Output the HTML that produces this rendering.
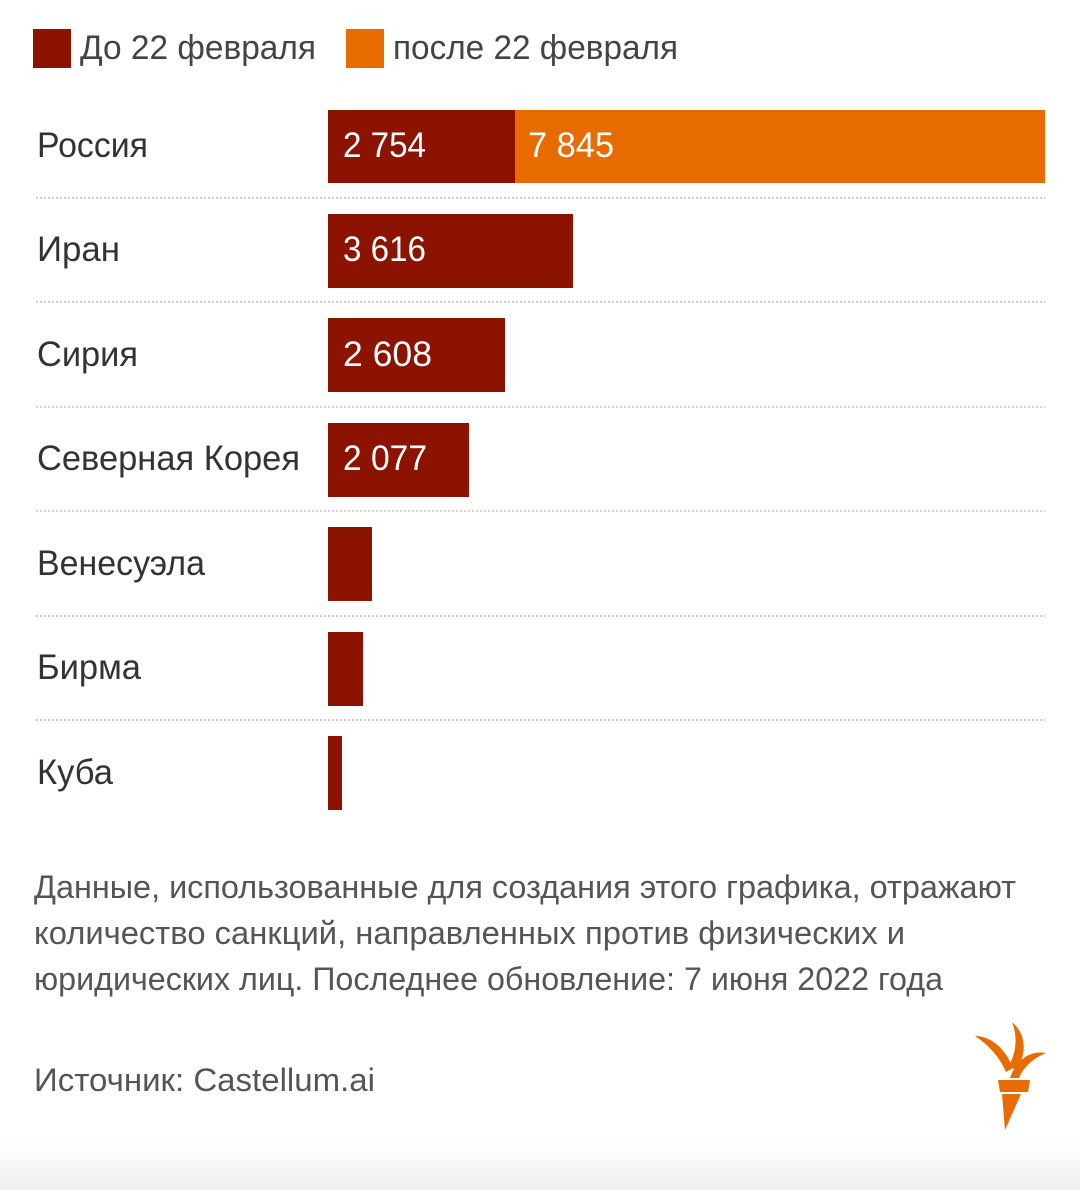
<!DOCTYPE html>
<html><head><meta charset="utf-8"><style>
html,body{margin:0;padding:0;background:#fff}
svg{display:block}
text{font-family:"Liberation Sans",sans-serif}
</style></head><body>
<svg width="1080" height="1190" viewBox="0 0 1080 1190">
<defs><linearGradient id="g" x1="0" y1="0" x2="0" y2="1"><stop offset="0" stop-color="#fff"/><stop offset="1" stop-color="#efefef"/></linearGradient></defs>
<rect x="0" y="1140" width="1080" height="50" fill="url(#g)"/>
<rect x="33" y="29" width="38" height="39" fill="#8b1300"/>
<text x="80" y="59" font-size="34" fill="#444" textLength="236" lengthAdjust="spacingAndGlyphs">До 22 февраля</text>
<rect x="346" y="29" width="38" height="39" fill="#e86b00"/>
<text x="393" y="59" font-size="34" fill="#444" textLength="285" lengthAdjust="spacingAndGlyphs">после 22 февраля</text>
<g stroke="#d0d0d0" stroke-width="2" stroke-dasharray="2 2">
<line x1="36" y1="198" x2="1045" y2="198"/><line x1="36" y1="302" x2="1045" y2="302"/>
<line x1="36" y1="407" x2="1045" y2="407"/><line x1="36" y1="511" x2="1045" y2="511"/>
<line x1="36" y1="616" x2="1045" y2="616"/><line x1="36" y1="720" x2="1045" y2="720"/>
</g>
<g fill="#8b1300">
<rect x="328" y="110" width="187" height="73"/>
<rect x="328" y="214" width="245" height="74"/>
<rect x="328" y="318" width="177" height="74"/>
<rect x="328" y="423" width="141" height="74"/>
<rect x="328" y="527" width="44" height="74"/>
<rect x="328" y="632" width="35" height="74"/>
<rect x="328" y="736" width="14" height="74"/>
</g>
<rect x="515" y="110" width="530" height="73" fill="#e86b00"/>
<g font-size="35" fill="#333">
<text x="37" y="157" textLength="111" lengthAdjust="spacingAndGlyphs">Россия</text>
<text x="37" y="261" textLength="83" lengthAdjust="spacingAndGlyphs">Иран</text>
<text x="37" y="366" textLength="101" lengthAdjust="spacingAndGlyphs">Сирия</text>
<text x="37" y="470" textLength="263" lengthAdjust="spacingAndGlyphs">Северная Корея</text>
<text x="37" y="575" textLength="168" lengthAdjust="spacingAndGlyphs">Венесуэла</text>
<text x="37" y="679" textLength="104" lengthAdjust="spacingAndGlyphs">Бирма</text>
<text x="37" y="784" textLength="76" lengthAdjust="spacingAndGlyphs">Куба</text>
</g>
<g font-size="35" fill="#fff">
<text x="343" y="157" textLength="83" lengthAdjust="spacingAndGlyphs">2 754</text>
<text x="528" y="157" textLength="86" lengthAdjust="spacingAndGlyphs">7 845</text>
<text x="343" y="261" textLength="83" lengthAdjust="spacingAndGlyphs">3 616</text>
<text x="343" y="366" textLength="89" lengthAdjust="spacingAndGlyphs">2 608</text>
<text x="343" y="470" textLength="84" lengthAdjust="spacingAndGlyphs">2 077</text>
</g>
<g font-size="32" fill="#555">
<text x="34" y="898" textLength="982" lengthAdjust="spacingAndGlyphs">Данные, использованные для создания этого графика, отражают</text>
<text x="34" y="944" textLength="871" lengthAdjust="spacingAndGlyphs">количество санкций, направленных против физических и</text>
<text x="34" y="990" textLength="909" lengthAdjust="spacingAndGlyphs">юридических лиц. Последнее обновление: 7 июня 2022 года</text>
<text x="34" y="1091" textLength="341" lengthAdjust="spacingAndGlyphs">Источник: Castellum.ai</text>
</g>
<g fill="#e86b00">
<path d="M975 1036 C992 1036 1006 1050 1013 1068 L1006 1072 C1000 1058 990 1046 975 1036Z"/>
<path d="M1012 1022 C1028 1036 1026 1056 1016 1070 L1009 1066 C1016 1052 1018 1038 1012 1022Z"/>
<path d="M1046 1053 C1030 1050 1016 1060 1010 1078 L1019 1078 C1024 1066 1034 1058 1046 1053Z"/>
<path d="M998 1080 L1030 1080 L1028 1092 L1000 1092Z"/>
<path d="M1002 1094 L1021 1094 L1005 1130Z"/>
</g>
</svg>
</body></html>
